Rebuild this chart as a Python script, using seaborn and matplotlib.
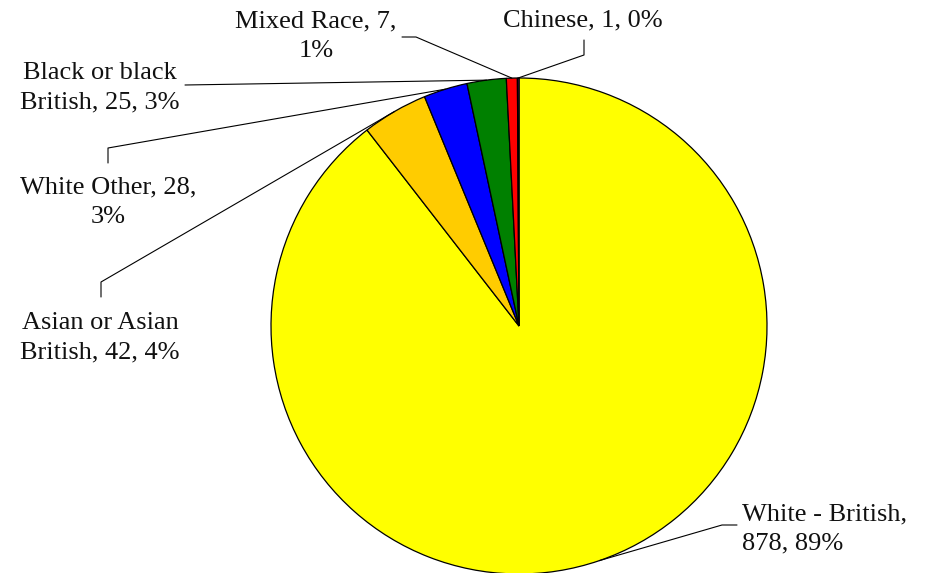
import numpy as np
import matplotlib
matplotlib.use("Agg")
import matplotlib.pyplot as plt
import seaborn as sns

# ethnicity breakdown, in the order the slices run clockwise from 12 o'clock
groups = ["White - British", "Asian or Asian British", "White Other",
          "Black or black British", "Mixed Race", "Chinese"]
counts = [878, 42, 28, 25, 7, 1]
pcts = [89, 4, 3, 3, 1, 0]
colors = ["#FFFF00", "#FFCC00", "#0000FF", "#008000", "#FF0000", "#800080"]

# how each label wraps, as in the source
label_text = [
    "White - British,\n878, 89%",
    "Asian or Asian\nBritish, 42, 4%",
    "White Other, 28,\n3%",
    "Black or black\nBritish, 25, 3%",
    "Mixed Race, 7,\n1%",
    "Chinese, 1, 0%",
]

W, H = 929, 573


def px(x, y):
    # pixel position (from top left) -> data coords
    return x, H - y


sns.set_theme(style="white")
plt.rcParams["font.family"] = ["Liberation Serif", "DejaVu Serif"]

fig = plt.figure(figsize=(W / 100, H / 100), dpi=100)
ax = fig.add_axes([0, 0, 1, 1])

cx, cy = px(519, 326)
r = 248
wedges, _ = ax.pie(counts, colors=colors, startangle=90, counterclock=False,
                   center=(cx, cy), radius=r, frame=True,
                   wedgeprops=dict(edgecolor="black", linewidth=0.9))
ax.set_xlim(0, W)
ax.set_ylim(0, H)
ax.set_aspect("equal")
ax.axis("off")

# label placement: text anchor, alignment, leader elbow points (pixels)
layout = [
    dict(xy=(742, 529), ha="left", path=[(722, 525), (737, 525)]),
    dict(xy=(100, 338), ha="center", path=[(101, 282), (101, 297)]),
    dict(xy=(108, 202), ha="center", path=[(108, 148), (108, 163)]),
    dict(xy=(100, 88), ha="center", path=[(185, 85)]),
    dict(xy=(316, 36), ha="center", path=[(416, 37), (402, 37)]),
    dict(xy=(583, 20), ha="center", path=[(584, 55), (584, 40)]),
]

for w, txt, lay in zip(wedges, label_text, layout):
    mid = np.deg2rad((w.theta1 + w.theta2) / 2)
    sx, sy = cx + r * np.cos(mid), cy + r * np.sin(mid)
    pts = [(sx, sy)] + [px(*p) for p in lay["path"]]
    xs, ys = zip(*pts)
    ax.plot(xs, ys, color="black", linewidth=0.8)
    tx, ty = px(*lay["xy"])
    ax.text(tx, ty, txt, ha=lay["ha"], va="center", fontsize=19,
            linespacing=1.45, color="#111111",
            multialignment="center" if lay["ha"] == "center" else "left")

fig.savefig("out.png", dpi=100)
